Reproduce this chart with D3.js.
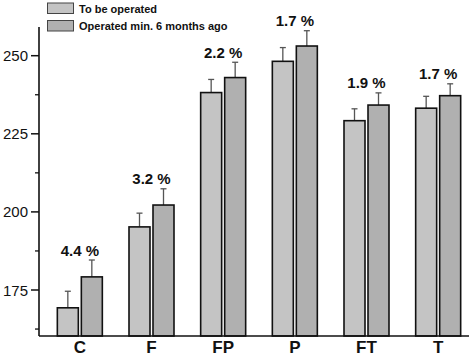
<!DOCTYPE html>
<html><head><meta charset="utf-8">
<script src="https://cdn.jsdelivr.net/npm/d3@7"></script>
<style>body{margin:0;background:#fff}svg{display:block}</style>
</head><body>
<svg id="c" width="470" height="357"></svg>
<script>
const categories = ["C","F","FP","P","FT","T"];
const seriesNames = ["To be operated","Operated min. 6 months ago"];
const preValues = [169.3,195.2,238.2,248.2,229.2,233.2];
const preErrors = [5.3,4.4,4.2,4.4,3.8,3.8];
const postValues = [179.2,202.2,243.0,253.1,234.2,237.2];
const postErrors = [5.4,5.2,4.9,4.9,3.9,3.8];
const changeLabels = ["4.4 %","3.2 %","2.2 %","1.7 %","1.9 %","1.7 %"];
const yTicks = [175,200,225,250];
const yMinorTicks = [162.5,187.5,212.5,237.5];

const svg = d3.select("#c");
const axisX0 = 39, axisX1 = 469, axisYTop = 27, axisYBottom = 336;
const y = d3.scaleLinear().domain([175,250]).range([290,55.7]);
const x = d3.scaleBand().domain(categories).range([44,474]).paddingInner(0).paddingOuter(0);
const barW = 21, gap = 3;
const fills = ["#c4c4c4","#b0b0b0"];
const font = "Liberation Sans, Arial, sans-serif";

const series = [
  {vals: preValues, errs: preErrors, off: -gap/2 - barW},
  {vals: postValues, errs: postErrors, off: gap/2}
];
series.forEach((s,si)=>{
  const g = svg.append("g");
  categories.forEach((c,i)=>{
    const cx = x(c) + x.bandwidth()/2;
    const bx = cx + s.off;
    const top = y(s.vals[i]);
    const et = y(s.vals[i] + s.errs[i]);
    g.append("line").attr("x1",bx+barW/2).attr("x2",bx+barW/2).attr("y1",top).attr("y2",et)
      .attr("stroke","#555").attr("stroke-width",1.3);
    g.append("line").attr("x1",bx+barW/2-3).attr("x2",bx+barW/2+3).attr("y1",et).attr("y2",et)
      .attr("stroke","#555").attr("stroke-width",1.3);
    g.append("rect").attr("x",bx).attr("y",top).attr("width",barW).attr("height",axisYBottom-top)
      .attr("fill",fills[si]).attr("stroke","#111").attr("stroke-width",1.6);
  });
});

categories.forEach((c,i)=>{
  const cx = x(c) + x.bandwidth()/2;
  svg.append("text").attr("x",cx).attr("y",y(postValues[i]+postErrors[i]) - 4.5)
    .attr("text-anchor","middle").attr("font-family",font)
    .attr("font-weight","bold").attr("font-size",15).attr("fill","#111").text(changeLabels[i]);
});

svg.append("line").attr("x1",axisX0).attr("x2",axisX0).attr("y1",axisYTop).attr("y2",axisYBottom)
  .attr("stroke","#111").attr("stroke-width",1.6);
yTicks.forEach(t=>{
  svg.append("line").attr("x1",axisX0-8).attr("x2",axisX0).attr("y1",y(t)).attr("y2",y(t))
    .attr("stroke","#111").attr("stroke-width",1.5);
  svg.append("text").attr("x",28).attr("y",y(t)+5.5).attr("text-anchor","end")
    .attr("font-family",font).attr("font-size",15).attr("fill","#111").text(t);
});
yMinorTicks.forEach(t=>{
  svg.append("line").attr("x1",axisX0-4).attr("x2",axisX0).attr("y1",y(t)).attr("y2",y(t))
    .attr("stroke","#111").attr("stroke-width",1.3);
});
svg.append("line").attr("x1",axisX0).attr("x2",axisX1).attr("y1",axisYBottom).attr("y2",axisYBottom)
  .attr("stroke","#111").attr("stroke-width",1.6);
categories.forEach(c=>{
  svg.append("text").attr("x",x(c)+x.bandwidth()/2).attr("y",353).attr("text-anchor","middle")
    .attr("font-family",font).attr("font-weight","bold")
    .attr("font-size",17).attr("fill","#111").text(c);
});

seriesNames.forEach((n,i)=>{
  const ly = 3 + i*17.5;
  svg.append("rect").attr("x",47.5).attr("y",ly).attr("width",26).attr("height",10.5)
    .attr("fill",fills[i]).attr("stroke","#444").attr("stroke-width",1);
  svg.append("text").attr("x",79).attr("y",ly+9.5)
    .attr("font-family",font).attr("font-weight","bold")
    .attr("font-size",11).attr("fill","#111").text(n);
});
</script>
</body></html>
